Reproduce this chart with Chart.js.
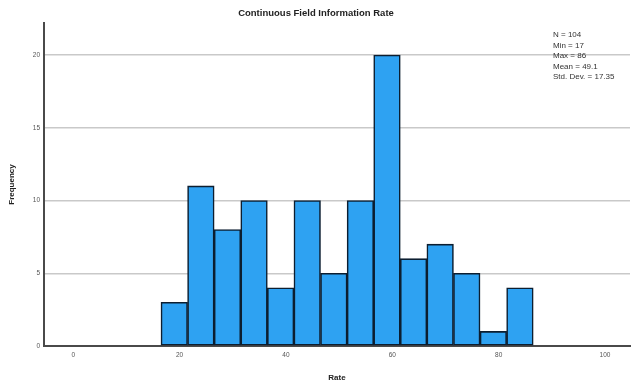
<!DOCTYPE html>
<html>
<head>
<meta charset="utf-8">
<script src="https://cdn.jsdelivr.net/npm/chart.js@4.4.1/dist/chart.umd.min.js"></script>
<style>
  html, body { margin: 0; padding: 0; background: #ffffff; }
  #wrap { width: 634px; height: 385px; }
</style>
</head>
<body>
<div id="wrap"><canvas id="chart" width="634" height="385"></canvas></div>
<script>
// Histogram of the information rate: bin midpoints (bins are 5 wide)
const binMids = [19, 24, 29, 34, 39, 44, 49, 54, 59, 64, 69, 74, 79, 84];
const counts  = [3, 11, 8, 10, 4, 10, 5, 10, 20, 6, 7, 5, 1, 4];

// Axis ticks
const xTicks = [0, 20, 40, 60, 80, 100];
const yTicks = [0, 5, 10, 15, 20];

// Summary statistics shown at top right
const statLines = ['N = 104', 'Min = 17', 'Max = 86', 'Mean = 49.1', 'Std. Dev. = 17.35'];

const chartTitle = 'Continuous Field Information Rate';
const xTitle = 'Rate';
const yTitle = 'Frequency';

const FONT = "'Liberation Sans', Arial, sans-serif";

const textPlugin = {
  id: 'textPlugin',
  afterDraw(chart) {
    const ctx = chart.ctx;
    ctx.save();
    ctx.fillStyle = '#222';
    ctx.font = 'bold 9.5px ' + FONT;
    ctx.textAlign = 'center';
    ctx.textBaseline = 'middle';
    ctx.fillText(chartTitle, 316, 13);

    ctx.font = '8px ' + FONT;
    ctx.textAlign = 'left';
    ctx.fillStyle = '#333';
    statLines.forEach((s, i) => ctx.fillText(s, 553, 35 + i * 10.5));
    ctx.restore();
  }
};

new Chart(document.getElementById('chart'), {
  type: 'bar',
  data: {
    datasets: [{
      data: binMids.map((x, i) => ({ x: x, y: counts[i] })),
      backgroundColor: '#2ea2f2',
      borderColor: '#0c1e30',
      borderWidth: 1.6,
      borderSkipped: false,
      barPercentage: 1,
      categoryPercentage: 1
    }]
  },
  options: {
    responsive: false,
    devicePixelRatio: 1,
    animation: false,
    layout: { padding: { top: 23, right: 4, left: 0, bottom: 0 } },
    plugins: {
      legend: { display: false },
      tooltip: { enabled: false }
    },
    scales: {
      x: {
        type: 'linear',
        offset: false,
        min: -5.5,
        max: 104.7,
        afterBuildTicks: s => { s.ticks = xTicks.map(v => ({ value: v })); },
        afterFit: s => { s.height = 39; },
        grid: { display: false, drawTicks: false },
        border: { display: true, color: '#4a4a4a', width: 2 },
        ticks: {
          color: '#555',
          font: { family: FONT, size: 6.5 },
          padding: 5,
          maxRotation: 0,
          autoSkip: false
        },
        title: {
          display: true,
          text: xTitle,
          color: '#222',
          font: { family: FONT, size: 8, weight: 'bold' },
          padding: { top: 0, bottom: 2 }
        }
      },
      y: {
        min: 0,
        max: 22.2,
        afterBuildTicks: s => { s.ticks = yTicks.map(v => ({ value: v })); },
        afterFit: s => { s.width = 44; },
        grid: {
          display: true,
          drawTicks: false,
          color: ctx => ctx.tick && ctx.tick.value === 0 ? 'rgba(0,0,0,0)' : '#c9c9c9',
          lineWidth: 1.5
        },
        border: { display: true, color: '#4a4a4a', width: 2 },
        ticks: {
          color: '#555',
          font: { family: FONT, size: 6.5 },
          padding: 4,
          autoSkip: false
        },
        title: {
          display: true,
          text: yTitle,
          color: '#222',
          font: { family: FONT, size: 8, weight: 'bold' },
          padding: { top: 7, bottom: 0 }
        }
      }
    }
  },
  plugins: [textPlugin]
});
</script>
</body>
</html>
